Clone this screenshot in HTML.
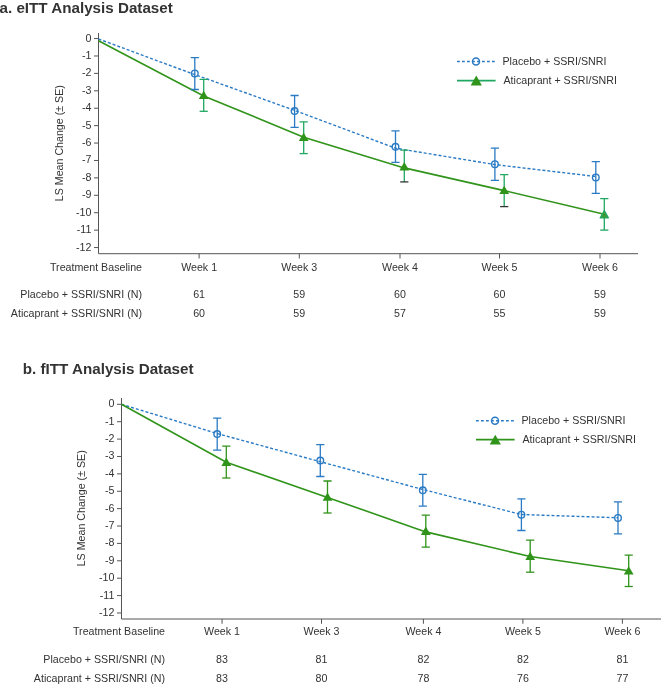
<!DOCTYPE html>
<html><head><meta charset="utf-8"><style>
html,body{margin:0;padding:0;background:#fff;width:661px;height:685px;overflow:hidden}
svg{display:block;will-change:transform}
text{font-family:"Liberation Sans", sans-serif;font-size:10.67px;fill:#333333}
.t{font-size:15.2px;font-weight:bold}
</style></head><body>
<svg width="661" height="685" viewBox="0 0 661 685">
<text class="t" x="-0.5" y="12.7">a. eITT Analysis Dataset</text>
<text class="t" x="22.8" y="373.8">b. fITT Analysis Dataset</text>
<line x1="98.5" y1="33.0" x2="98.5" y2="253.7" stroke="#555555" stroke-width="1"/>
<line x1="98.5" y1="253.7" x2="638" y2="253.7" stroke="#555555" stroke-width="1"/>
<line x1="94.0" y1="38.55" x2="98.5" y2="38.55" stroke="#555555" stroke-width="1"/>
<text x="91.4" y="41.55" text-anchor="end">0</text>
<line x1="94.0" y1="55.97" x2="98.5" y2="55.97" stroke="#555555" stroke-width="1"/>
<text x="91.4" y="58.97" text-anchor="end">-1</text>
<line x1="94.0" y1="73.38" x2="98.5" y2="73.38" stroke="#555555" stroke-width="1"/>
<text x="91.4" y="76.38" text-anchor="end">-2</text>
<line x1="94.0" y1="90.80" x2="98.5" y2="90.80" stroke="#555555" stroke-width="1"/>
<text x="91.4" y="93.80" text-anchor="end">-3</text>
<line x1="94.0" y1="108.22" x2="98.5" y2="108.22" stroke="#555555" stroke-width="1"/>
<text x="91.4" y="111.22" text-anchor="end">-4</text>
<line x1="94.0" y1="125.64" x2="98.5" y2="125.64" stroke="#555555" stroke-width="1"/>
<text x="91.4" y="128.63" text-anchor="end">-5</text>
<line x1="94.0" y1="143.05" x2="98.5" y2="143.05" stroke="#555555" stroke-width="1"/>
<text x="91.4" y="146.05" text-anchor="end">-6</text>
<line x1="94.0" y1="160.47" x2="98.5" y2="160.47" stroke="#555555" stroke-width="1"/>
<text x="91.4" y="163.47" text-anchor="end">-7</text>
<line x1="94.0" y1="177.89" x2="98.5" y2="177.89" stroke="#555555" stroke-width="1"/>
<text x="91.4" y="180.89" text-anchor="end">-8</text>
<line x1="94.0" y1="195.30" x2="98.5" y2="195.30" stroke="#555555" stroke-width="1"/>
<text x="91.4" y="198.30" text-anchor="end">-9</text>
<line x1="94.0" y1="212.72" x2="98.5" y2="212.72" stroke="#555555" stroke-width="1"/>
<text x="91.4" y="215.72" text-anchor="end">-10</text>
<line x1="94.0" y1="230.14" x2="98.5" y2="230.14" stroke="#555555" stroke-width="1"/>
<text x="91.4" y="233.14" text-anchor="end">-11</text>
<line x1="94.0" y1="247.55" x2="98.5" y2="247.55" stroke="#555555" stroke-width="1"/>
<text x="91.4" y="250.55" text-anchor="end">-12</text>
<line x1="199.1" y1="253.7" x2="199.1" y2="258.5" stroke="#555555" stroke-width="1"/>
<line x1="299.3" y1="253.7" x2="299.3" y2="258.5" stroke="#555555" stroke-width="1"/>
<line x1="400.0" y1="253.7" x2="400.0" y2="258.5" stroke="#555555" stroke-width="1"/>
<line x1="499.5" y1="253.7" x2="499.5" y2="258.5" stroke="#555555" stroke-width="1"/>
<line x1="600.0" y1="253.7" x2="600.0" y2="258.5" stroke="#555555" stroke-width="1"/>
<text x="199.1" y="271.1" text-anchor="middle">Week 1</text>
<text x="299.3" y="271.1" text-anchor="middle">Week 3</text>
<text x="400.0" y="271.1" text-anchor="middle">Week 4</text>
<text x="499.5" y="271.1" text-anchor="middle">Week 5</text>
<text x="600.0" y="271.1" text-anchor="middle">Week 6</text>
<text x="142.0" y="271.1" text-anchor="end">Treatment Baseline</text>
<text x="142.0" y="297.9" text-anchor="end">Placebo + SSRI/SNRI (N)</text>
<text x="142.0" y="316.8" text-anchor="end">Aticaprant + SSRI/SNRI (N)</text>
<text x="199.1" y="297.9" text-anchor="middle">61</text>
<text x="199.1" y="316.8" text-anchor="middle">60</text>
<text x="299.3" y="297.9" text-anchor="middle">59</text>
<text x="299.3" y="316.8" text-anchor="middle">59</text>
<text x="400.0" y="297.9" text-anchor="middle">60</text>
<text x="400.0" y="316.8" text-anchor="middle">57</text>
<text x="499.5" y="297.9" text-anchor="middle">60</text>
<text x="499.5" y="316.8" text-anchor="middle">55</text>
<text x="600.0" y="297.9" text-anchor="middle">59</text>
<text x="600.0" y="316.8" text-anchor="middle">59</text>
<text transform="translate(62.5,143.2) rotate(-90)" text-anchor="middle">LS Mean Change (± SE)</text>
<polyline fill="none" stroke="#2a7bc4" stroke-width="1.4" stroke-dasharray="3 2" points="98.50,39.00 194.80,74.60 294.60,110.40 395.50,148.20 494.90,164.60 595.80,176.50"/>
<polyline fill="none" stroke="#30941a" stroke-width="1.6" points="98.50,40.70 203.70,95.90 303.70,137.15 404.30,167.90 504.20,190.65 604.30,214.30"/>
<path d="M190.70,57.70H198.90M194.80,57.70V89.50M190.70,89.50H198.90" stroke="#2a7bc4" stroke-width="1.3" fill="none"/>
<circle cx="194.80" cy="73.40" r="3.3" fill="none" stroke="#2a7bc4" stroke-width="1.4"/>
<path d="M290.50,95.50H298.70M294.60,95.50V127.30M290.50,127.30H298.70" stroke="#2a7bc4" stroke-width="1.3" fill="none"/>
<circle cx="294.60" cy="111.00" r="3.3" fill="none" stroke="#2a7bc4" stroke-width="1.4"/>
<path d="M391.40,130.90H399.60M395.50,130.90V162.30M391.40,162.30H399.60" stroke="#2a7bc4" stroke-width="1.3" fill="none"/>
<circle cx="395.50" cy="146.80" r="3.3" fill="none" stroke="#2a7bc4" stroke-width="1.4"/>
<path d="M490.80,148.20H499.00M494.90,148.20V180.30M490.80,180.30H499.00" stroke="#2a7bc4" stroke-width="1.3" fill="none"/>
<circle cx="494.90" cy="164.20" r="3.3" fill="none" stroke="#2a7bc4" stroke-width="1.4"/>
<path d="M591.70,161.60H599.90M595.80,161.60V193.40M591.70,193.40H599.90" stroke="#2a7bc4" stroke-width="1.3" fill="none"/>
<circle cx="595.80" cy="177.40" r="3.3" fill="none" stroke="#2a7bc4" stroke-width="1.4"/>
<path d="M199.60,79.40H207.80M203.70,79.40V111.30" stroke="#20a862" stroke-width="1.3" fill="none"/>
<path d="M199.60,111.30H207.80" stroke="#20a862" stroke-width="1.3" fill="none"/>
<path d="M203.70,90.70L208.60,99.00L198.80,99.00Z" fill="#30941a"/>
<path d="M299.60,121.80H307.80M303.70,121.80V153.60" stroke="#20a862" stroke-width="1.3" fill="none"/>
<path d="M299.60,153.60H307.80" stroke="#20a862" stroke-width="1.3" fill="none"/>
<path d="M303.70,132.70L308.60,141.00L298.80,141.00Z" fill="#30941a"/>
<path d="M400.20,150.10H408.40M404.30,150.10V181.90" stroke="#20a862" stroke-width="1.3" fill="none"/>
<path d="M400.20,181.90H408.40" stroke="#333333" stroke-width="1.3" fill="none"/>
<path d="M404.30,162.10L409.20,170.40L399.40,170.40Z" fill="#30941a"/>
<path d="M500.10,174.60H508.30M504.20,174.60V206.60" stroke="#20a862" stroke-width="1.3" fill="none"/>
<path d="M500.10,206.60H508.30" stroke="#333333" stroke-width="1.3" fill="none"/>
<path d="M504.20,185.70L509.10,194.00L499.30,194.00Z" fill="#30941a"/>
<path d="M600.20,198.60H608.40M604.30,198.60V230.10" stroke="#20a862" stroke-width="1.3" fill="none"/>
<path d="M600.20,230.10H608.40" stroke="#20a862" stroke-width="1.3" fill="none"/>
<path d="M604.30,210.50L608.40,217.90L600.20,217.90Z" fill="#3e9a35" stroke="#20a862" stroke-width="1.2" stroke-linejoin="round"/>
<line x1="457" y1="61.5" x2="495.6" y2="61.5" stroke="#2a7bc4" stroke-width="1.4" stroke-dasharray="2.8 2.2"/>
<circle cx="476" cy="61.5" r="3.5" fill="none" stroke="#2a7bc4" stroke-width="1.5"/>
<line x1="457" y1="80.6" x2="495.6" y2="80.6" stroke="#20a862" stroke-width="1.8"/>
<path d="M476.3,75.6L481.9,85.5L470.7,85.5Z" fill="#30941a"/>
<text x="502.5" y="65.0">Placebo + SSRI/SNRI</text>
<text x="503.5" y="83.6">Aticaprant + SSRI/SNRI</text>
<line x1="121.5" y1="398.0" x2="121.5" y2="619.0" stroke="#555555" stroke-width="1"/>
<line x1="121.5" y1="619.0" x2="661" y2="619.0" stroke="#555555" stroke-width="1"/>
<line x1="117.0" y1="404.30" x2="121.5" y2="404.30" stroke="#555555" stroke-width="1"/>
<text x="114.4" y="407.30" text-anchor="end">0</text>
<line x1="117.0" y1="421.69" x2="121.5" y2="421.69" stroke="#555555" stroke-width="1"/>
<text x="114.4" y="424.69" text-anchor="end">-1</text>
<line x1="117.0" y1="439.08" x2="121.5" y2="439.08" stroke="#555555" stroke-width="1"/>
<text x="114.4" y="442.08" text-anchor="end">-2</text>
<line x1="117.0" y1="456.47" x2="121.5" y2="456.47" stroke="#555555" stroke-width="1"/>
<text x="114.4" y="459.47" text-anchor="end">-3</text>
<line x1="117.0" y1="473.86" x2="121.5" y2="473.86" stroke="#555555" stroke-width="1"/>
<text x="114.4" y="476.86" text-anchor="end">-4</text>
<line x1="117.0" y1="491.25" x2="121.5" y2="491.25" stroke="#555555" stroke-width="1"/>
<text x="114.4" y="494.25" text-anchor="end">-5</text>
<line x1="117.0" y1="508.64" x2="121.5" y2="508.64" stroke="#555555" stroke-width="1"/>
<text x="114.4" y="511.64" text-anchor="end">-6</text>
<line x1="117.0" y1="526.03" x2="121.5" y2="526.03" stroke="#555555" stroke-width="1"/>
<text x="114.4" y="529.03" text-anchor="end">-7</text>
<line x1="117.0" y1="543.42" x2="121.5" y2="543.42" stroke="#555555" stroke-width="1"/>
<text x="114.4" y="546.42" text-anchor="end">-8</text>
<line x1="117.0" y1="560.81" x2="121.5" y2="560.81" stroke="#555555" stroke-width="1"/>
<text x="114.4" y="563.81" text-anchor="end">-9</text>
<line x1="117.0" y1="578.20" x2="121.5" y2="578.20" stroke="#555555" stroke-width="1"/>
<text x="114.4" y="581.20" text-anchor="end">-10</text>
<line x1="117.0" y1="595.59" x2="121.5" y2="595.59" stroke="#555555" stroke-width="1"/>
<text x="114.4" y="598.59" text-anchor="end">-11</text>
<line x1="117.0" y1="612.98" x2="121.5" y2="612.98" stroke="#555555" stroke-width="1"/>
<text x="114.4" y="615.98" text-anchor="end">-12</text>
<line x1="222.05" y1="619.0" x2="222.05" y2="623.8" stroke="#555555" stroke-width="1"/>
<line x1="321.5" y1="619.0" x2="321.5" y2="623.8" stroke="#555555" stroke-width="1"/>
<line x1="423.4" y1="619.0" x2="423.4" y2="623.8" stroke="#555555" stroke-width="1"/>
<line x1="522.9" y1="619.0" x2="522.9" y2="623.8" stroke="#555555" stroke-width="1"/>
<line x1="622.4" y1="619.0" x2="622.4" y2="623.8" stroke="#555555" stroke-width="1"/>
<text x="222.05" y="634.9" text-anchor="middle">Week 1</text>
<text x="321.5" y="634.9" text-anchor="middle">Week 3</text>
<text x="423.4" y="634.9" text-anchor="middle">Week 4</text>
<text x="522.9" y="634.9" text-anchor="middle">Week 5</text>
<text x="622.4" y="634.9" text-anchor="middle">Week 6</text>
<text x="165.0" y="634.9" text-anchor="end">Treatment Baseline</text>
<text x="165.0" y="662.5" text-anchor="end">Placebo + SSRI/SNRI (N)</text>
<text x="165.0" y="681.5" text-anchor="end">Aticaprant + SSRI/SNRI (N)</text>
<text x="222.05" y="662.5" text-anchor="middle">83</text>
<text x="222.05" y="681.5" text-anchor="middle">83</text>
<text x="321.5" y="662.5" text-anchor="middle">81</text>
<text x="321.5" y="681.5" text-anchor="middle">80</text>
<text x="423.4" y="662.5" text-anchor="middle">82</text>
<text x="423.4" y="681.5" text-anchor="middle">78</text>
<text x="522.9" y="662.5" text-anchor="middle">82</text>
<text x="522.9" y="681.5" text-anchor="middle">76</text>
<text x="622.4" y="662.5" text-anchor="middle">81</text>
<text x="622.4" y="681.5" text-anchor="middle">77</text>
<text transform="translate(85.2,508.3) rotate(-90)" text-anchor="middle">LS Mean Change (± SE)</text>
<polyline fill="none" stroke="#2a7bc4" stroke-width="1.4" stroke-dasharray="3 2" points="121.50,404.30 217.20,433.55 320.30,461.70 422.80,489.50 521.40,514.50 618.00,517.75"/>
<polyline fill="none" stroke="#30941a" stroke-width="1.6" points="121.50,404.30 226.30,462.30 327.50,497.40 425.80,531.90 530.20,556.55 628.70,570.70"/>
<path d="M213.10,418.20H221.30M217.20,418.20V450.10M213.10,450.10H221.30" stroke="#2a7bc4" stroke-width="1.3" fill="none"/>
<circle cx="217.20" cy="434.10" r="3.3" fill="none" stroke="#2a7bc4" stroke-width="1.4"/>
<path d="M316.20,444.60H324.40M320.30,444.60V476.50M316.20,476.50H324.40" stroke="#2a7bc4" stroke-width="1.3" fill="none"/>
<circle cx="320.30" cy="460.50" r="3.3" fill="none" stroke="#2a7bc4" stroke-width="1.4"/>
<path d="M418.70,474.40H426.90M422.80,474.40V506.20M418.70,506.20H426.90" stroke="#2a7bc4" stroke-width="1.3" fill="none"/>
<circle cx="422.80" cy="490.30" r="3.3" fill="none" stroke="#2a7bc4" stroke-width="1.4"/>
<path d="M517.30,498.80H525.50M521.40,498.80V530.50M517.30,530.50H525.50" stroke="#2a7bc4" stroke-width="1.3" fill="none"/>
<circle cx="521.40" cy="514.70" r="3.3" fill="none" stroke="#2a7bc4" stroke-width="1.4"/>
<path d="M613.90,501.90H622.10M618.00,501.90V533.80M613.90,533.80H622.10" stroke="#2a7bc4" stroke-width="1.3" fill="none"/>
<circle cx="618.00" cy="517.90" r="3.3" fill="none" stroke="#2a7bc4" stroke-width="1.4"/>
<path d="M222.20,446.20H230.40M226.30,446.20V478.00" stroke="#30941a" stroke-width="1.3" fill="none"/>
<path d="M222.20,478.00H230.40" stroke="#30941a" stroke-width="1.3" fill="none"/>
<path d="M226.30,457.60L231.20,465.90L221.40,465.90Z" fill="#30941a"/>
<path d="M323.40,481.00H331.60M327.50,481.00V513.00" stroke="#30941a" stroke-width="1.3" fill="none"/>
<path d="M323.40,513.00H331.60" stroke="#30941a" stroke-width="1.3" fill="none"/>
<path d="M327.50,492.50L332.40,500.80L322.60,500.80Z" fill="#30941a"/>
<path d="M421.70,515.20H429.90M425.80,515.20V547.10" stroke="#30941a" stroke-width="1.3" fill="none"/>
<path d="M421.70,547.10H429.90" stroke="#30941a" stroke-width="1.3" fill="none"/>
<path d="M425.80,526.60L430.70,534.90L420.90,534.90Z" fill="#30941a"/>
<path d="M526.10,540.20H534.30M530.20,540.20V572.20" stroke="#30941a" stroke-width="1.3" fill="none"/>
<path d="M526.10,572.20H534.30" stroke="#30941a" stroke-width="1.3" fill="none"/>
<path d="M530.20,551.70L535.10,560.00L525.30,560.00Z" fill="#30941a"/>
<path d="M624.60,555.10H632.80M628.70,555.10V586.50" stroke="#30941a" stroke-width="1.3" fill="none"/>
<path d="M624.60,586.50H632.80" stroke="#30941a" stroke-width="1.3" fill="none"/>
<path d="M628.70,566.30L633.60,574.60L623.80,574.60Z" fill="#30941a"/>
<line x1="476" y1="420.7" x2="514.6" y2="420.7" stroke="#2a7bc4" stroke-width="1.4" stroke-dasharray="2.8 2.2"/>
<circle cx="495" cy="420.7" r="3.5" fill="none" stroke="#2a7bc4" stroke-width="1.5"/>
<line x1="476" y1="439.7" x2="514.6" y2="439.7" stroke="#30941a" stroke-width="1.8"/>
<path d="M495.3,434.7L500.9,444.59999999999997L489.7,444.59999999999997Z" fill="#30941a"/>
<text x="521.5" y="424.2">Placebo + SSRI/SNRI</text>
<text x="522.5" y="442.7">Aticaprant + SSRI/SNRI</text>
</svg>
</body></html>
